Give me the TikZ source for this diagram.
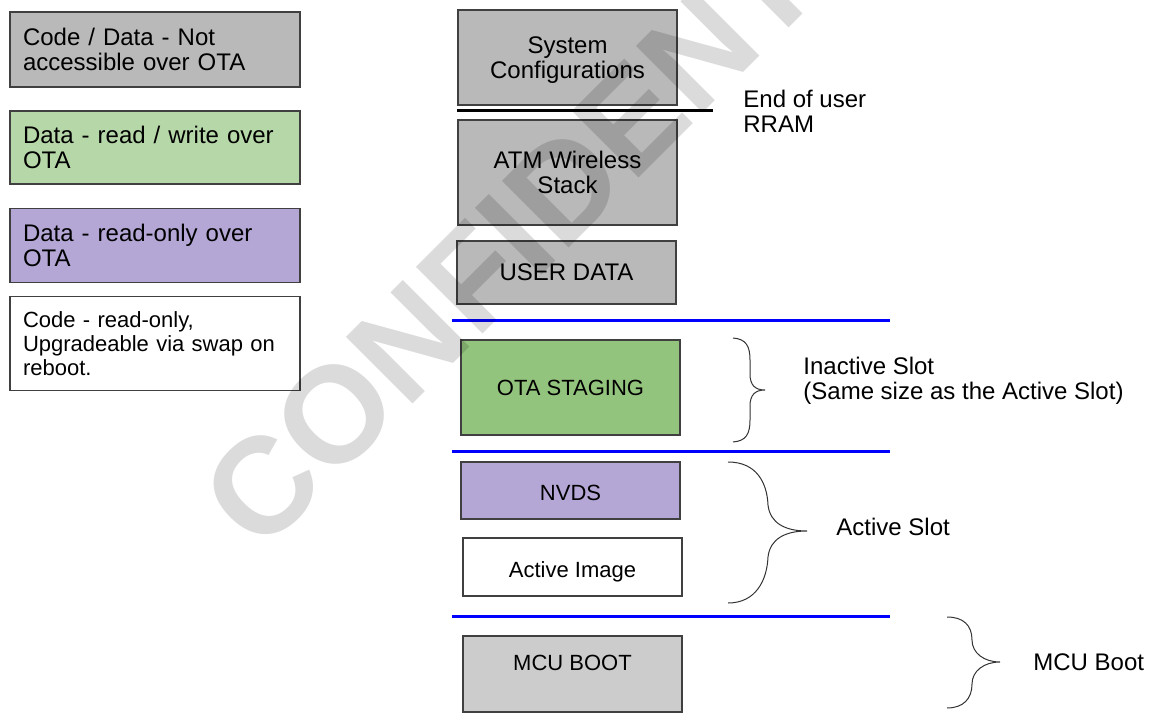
\documentclass[tikz,border=0pt]{standalone}
\usepackage{fontspec}
\setmainfont{Liberation Sans}
\usetikzlibrary{positioning}
\definecolor{boxline}{HTML}{404040}
\definecolor{lockgray}{HTML}{B9B9B9}
\definecolor{bootgray}{HTML}{CCCCCC}
\definecolor{rwgreen}{HTML}{B6D7A8}
\definecolor{stagegreen}{HTML}{93C47D}
\definecolor{ropurple}{HTML}{B4A7D6}
\tikzset{
    legend/.style = {rectangle,
                    draw=boxline,
                    text=black,
                    line width=0.6pt,
                    minimum width=145pt,
                    text width=132pt,
                    inner xsep=6.5pt,
                    align=left,
                    font=\fontsize{12}{12.5}\selectfont},
    region/.style = {rectangle,
                    draw=boxline,
                    text=black,
                    line width=0.6pt,
                    minimum width=109.5pt,
                    align=center,
                    font=\fontsize{11}{13}\selectfont},
    note/.style =   {anchor=west,
                    align=left,
                    text=black,
                    inner sep=0pt,
                    font=\fontsize{12}{12.5}\selectfont},
    -,
    slotline/.style = {draw=blue, line width=1.5pt},
    brace/.style =  {draw=black!80, line width=0.5pt},
    x=0.5pt, y=-0.5pt}

\begin{document}
\begin{tikzpicture}[node distance=49pt]
                \useasboundingbox (0,0) rectangle (1149,721);

                % legend
                \node[legend,fill=lockgray]   (nota)  [minimum height=37.5pt] at (155,49.5) {Code / Data - Not\\accessible over OTA};
                \node[legend,fill=rwgreen]    (rw)    [below of=nota,minimum height=36.5pt]  {Data - read / write over\\OTA};
                \node[legend,fill=ropurple]   (ro)    [below of=rw,minimum height=37pt]     {Data - read-only over\\OTA};
                \node[legend,fill=white]      (code)  [below of=ro,minimum height=47pt,font=\fontsize{11}{12}\selectfont] {Code - read-only,\\Upgradeable via swap on\\reboot.};

                % memory map
                \node[region,fill=lockgray]   (sysconf) [minimum height=47.5pt,text depth=0pt,font=\fontsize{12}{12.5}\selectfont] at (567.5,57.5)  {System\\Configurations};
                \node[region,fill=lockgray]   (stack)   [minimum height=52.5pt,font=\fontsize{12}{12.5}\selectfont] at (567.5,172.5) {ATM Wireless\\Stack};
                \node[region,fill=lockgray]   (user)    [minimum height=31.5pt,font=\fontsize{12}{12.5}\selectfont] at (566.5,272.5) {USER DATA};
                \node[region,fill=stagegreen] (staging) [minimum height=47.5pt] at (570.5,387.5) {OTA STAGING};
                \node[region,fill=ropurple]   (nvds)    [minimum height=28.5pt,text height=10pt] at (570.5,490.5) {NVDS};
                \node[region,fill=white]      (image)   [minimum height=29pt,text height=13pt]   at (572.5,567)   {Active Image};
                \node[region,fill=bootgray]   (boot)    [minimum height=38pt,text depth=11pt] at (572.5,674) {MCU BOOT};

                \draw [line width=1.5pt] (457,111) -- (713,111);
                \draw [slotline] (452,320) -- (890,320);
                \draw [slotline] (452,451) -- (890,451);
                \draw [slotline] (452,616) -- (890,616);

                % braces and notes
                \draw [brace] (733,338) .. controls (746,339) and (750,346) .. (750,360) -- (750,374)
                              .. controls (750,385) and (755,390) .. (765,390)
                              .. controls (755,390) and (750,395) .. (750,406) -- (750,420)
                              .. controls (750,434) and (746,441) .. (733,442);
                \draw [brace] (728,462) .. controls (756,462) and (767,482) .. (768,505)
                              .. controls (770,523) and (785,531) .. (807,531)
                              .. controls (785,531) and (770,539) .. (768,557)
                              .. controls (767,580) and (756,603) .. (728,603);
                \draw [brace] (947,617) .. controls (963,617) and (972,625) .. (972,640)
                              .. controls (972,653) and (984,662) .. (1000,662)
                              .. controls (984,662) and (972,671) .. (972,684)
                              .. controls (972,699) and (963,708) .. (947,708);

                \node[note] (rramend)  at (743,111.5) {End of user\\RRAM};
                \node[note] (inactive) at (803,380.5) {Inactive Slot\\(Same size as the Active Slot)};
                \node[note] (active)   at (836,527)   {Active Slot};
                \node[note] (mcu)      at (1033,662)  {MCU Boot};

                % watermark
                \begin{scope}
                \clip (0,0) rectangle (1149,721);
                \node[text=black,text opacity=0.14,rotate=45,inner sep=0pt,
                      font=\fontsize{68.5}{70}\selectfont\bfseries] (stamp) at (588,162) {CONFIDENTIAL};
                \end{scope}
        \end{tikzpicture}
\end{document}
